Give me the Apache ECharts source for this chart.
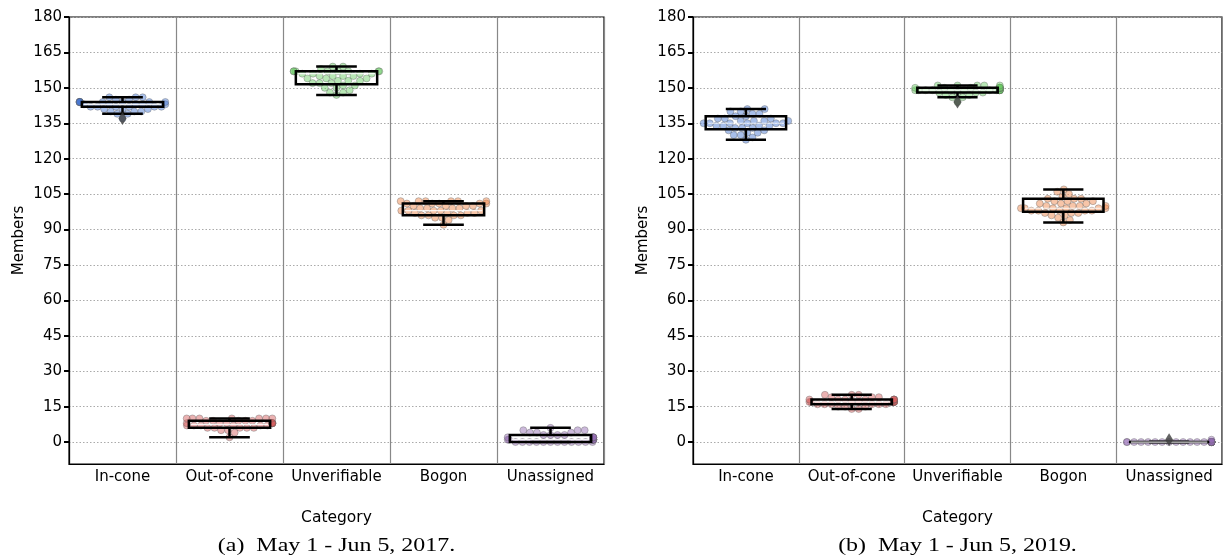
<!DOCTYPE html>
<html>
<head>
<meta charset="utf-8">
<script src="https://cdn.jsdelivr.net/npm/echarts@6.0.0/dist/echarts.min.js"></script>
<style>
  html, body { margin: 0; padding: 0; background: #fff; }
  #chart { width: 1223px; height: 555px; }
</style>
</head>
<body>
<div id="chart"></div>
<script>
const categories = ['In-cone', 'Out-of-cone', 'Unverifiable', 'Bogon', 'Unassigned'];
const yTicks = [0, 15, 30, 45, 60, 75, 90, 105, 120, 135, 150, 165, 180];
const captions = ['(a)  May 1 - Jun 5, 2017.', '(b)  May 1 - Jun 5, 2019.'];

// daily member counts, one array per category (2017)
const members2017 = [
  [137,139,139,140,140,140,141,141,141,142,142,142,142,142,142,143,143,143,143,143,144,144,144,144,144,144,144,144,144,144,144,145,145,146,146,146],
  [2,4,5,5,6,6,6,6,6,7,7,7,7,7,7,8,8,8,8,8,8,8,8,8,9,9,9,9,9,10,10,10,10,10,10,10],
  [147,148,148,149,150,150,151,151,152,152,152,153,153,153,154,154,154,155,155,155,155,156,156,156,156,157,157,157,157,157,157,157,157,158,159,159],
  [92,94,95,95,96,96,96,96,97,97,97,97,98,98,98,98,98,99,99,99,99,100,100,100,100,101,101,101,101,101,102,102,102,102,102,102],
  [0,0,0,0,0,0,0,0,0,0,0,0,1,1,1,1,1,1,1,1,2,2,2,2,2,3,3,3,3,4,4,4,5,5,5,6]
];
// [low whisker, q1, median, q3, high whisker]
const boxes2017 = [
  [139, 142, 143, 144, 146],
  [2, 6, 7.5, 9, 10],
  [147, 151.5, 156, 157, 159],
  [92, 96, 98, 101, 102],
  [0, 0, 1, 3, 6]
];
const outliers2017 = [[0, 137]];

// 2019
const members2019 = [
  [128,129,130,130,131,131,132,132,133,133,133,134,134,134,134,135,135,135,135,135,135,136,136,136,136,137,137,137,138,138,139,139,140,140,141,141],
  [14,14,15,15,15,16,16,16,16,16,16,17,17,17,17,17,17,17,17,17,17,17,18,18,18,18,18,18,18,18,19,19,19,20,20,20],
  [144,146,146,147,147,148,148,148,148,149,149,149,149,149,149,149,149,149,149,149,149,149,150,150,150,150,150,150,150,150,150,151,151,151,151,151],
  [93,94,95,96,96,97,97,97,98,98,98,98,98,99,99,99,99,99,99,100,100,100,100,101,101,101,102,102,102,103,103,103,104,105,106,107],
  [0,0,0,0,0,0,0,0,0,0,0,0,0,0,0,0,0,0,0,0,0,0,0,0,0,0,0,0,0,0,0,0,0,0,0,1]
];
const boxes2019 = [
  [128, 132.5, 135, 138, 141],
  [14, 16, 17, 18, 20],
  [146, 148, 149, 150, 151],
  [93, 97.5, 99, 103, 107],
  [0, 0, 0, 0, 0]
];
const outliers2019 = [[2, 144], [4, 1]];

const pointColors = ['rgba(72,120,208,0.6)', 'rgba(214,95,95,0.6)', 'rgba(106,204,100,0.6)', 'rgba(238,133,74,0.6)', 'rgba(149,108,180,0.6)'];

const Y_MIN = -9.3, Y_MAX = 180;
const GRID_H = 447;
const PX_PER_UNIT = GRID_H / (Y_MAX - Y_MIN);
const POINT = 7;

// simple beeswarm: put each point as close to the centre as it can go without overlap
function swarm(values, bandPx) {
  const half = 0.4 * bandPx;
  const order = values.map((v, i) => i).sort((a, b) => values[a] - values[b]);
  const placed = [];
  const out = new Array(values.length);
  order.forEach(idx => {
    const y = values[idx] * PX_PER_UNIT;
    const near = placed.filter(p => Math.abs(p.y - y) < POINT);
    const cands = [0];
    near.forEach(p => {
      const dx = Math.sqrt(POINT * POINT - (p.y - y) * (p.y - y));
      cands.push(p.x + dx, p.x - dx);
    });
    cands.sort((a, b) => Math.abs(a) - Math.abs(b));
    let x = cands.find(c => near.every(p => (p.x - c) * (p.x - c) + (p.y - y) * (p.y - y) >= POINT * POINT - 1e-6));
    if (Math.abs(x) > half) x = Math.sign(x) * half;
    placed.push({ x, y });
    out[idx] = x / bandPx;
  });
  return out;
}

const panels = [
  { left: 69, width: 535, members: members2017, boxes: boxes2017, outliers: outliers2017 },
  { left: 693, width: 529, members: members2019, boxes: boxes2019, outliers: outliers2019 }
];

const grid = [], xAxis = [], yAxis = [], series = [];
panels.forEach((p, g) => {
  grid.push({ left: p.left, top: 17, width: p.width, height: GRID_H, show: true, borderColor: '#000', borderWidth: 1.2, backgroundColor: 'transparent' });
  xAxis.push({
    type: 'category', gridIndex: g, data: categories,
    name: 'Category', nameLocation: 'middle', nameGap: 46,
    nameTextStyle: { fontFamily: 'DejaVu Sans', fontSize: 15.5, color: '#000' },
    axisLine: { onZero: false, lineStyle: { color: '#000', width: 1.2 } },
    axisTick: { show: false },
    axisLabel: { interval: 0, fontFamily: 'DejaVu Sans', fontSize: 15, color: '#000', margin: 6 },
    splitLine: { show: true, lineStyle: { color: '#888', width: 1.2 } }
  });
  xAxis.push({ type: 'value', gridIndex: g, min: -0.5, max: 4.5, show: false });
  yAxis.push({
    type: 'value', gridIndex: g, min: Y_MIN, max: Y_MAX,
    name: 'Members', nameLocation: 'middle', nameGap: 42,
    nameTextStyle: { fontFamily: 'DejaVu Sans', fontSize: 15, color: '#000' },
    axisLine: { show: true, onZero: false, lineStyle: { color: '#000', width: 1.2 } },
    axisTick: { show: true, length: 5, customValues: yTicks, lineStyle: { color: '#000', width: 2 } },
    axisLabel: { customValues: yTicks, fontFamily: 'DejaVu Sans', fontSize: 15, color: '#000', margin: 7 },
    splitLine: { show: true, lineStyle: { color: '#aaa', width: 1, type: [1.5, 2] } }
  });
  const bandPx = p.width / categories.length;
  p.members.forEach((vals, c) => {
    const offs = swarm(vals, bandPx);
    series.push({
      type: 'scatter', xAxisIndex: 2 * g + 1, yAxisIndex: g,
      symbolSize: POINT, z: 3,
      itemStyle: { color: pointColors[c], borderColor: 'rgba(100,100,100,0.6)', borderWidth: 0.8 },
      data: vals.map((v, i) => [c + offs[i], v])
    });
  });
  series.push({
    type: 'custom', xAxisIndex: 2 * g + 1, yAxisIndex: g, z: 4,
    data: p.boxes.map((b, c) => [c].concat(b)),
    renderItem: (params, api) => {
      const c = api.value(0);
      const x = api.coord([c, 0])[0];
      const bw = api.size([0.76, 0])[0];
      const cw = api.size([0.38, 0])[0];
      const y = k => api.coord([c, api.value(k)])[1];
      const lo = y(1), q1 = y(2), med = y(3), q3 = y(4), hi = y(5);
      const ls = { stroke: '#000', lineWidth: 2.5, fill: null };
      return {
        type: 'group',
        children: [
          { type: 'line', shape: { x1: x, y1: q1, x2: x, y2: lo }, style: ls },
          { type: 'line', shape: { x1: x, y1: q3, x2: x, y2: hi }, style: ls },
          { type: 'line', shape: { x1: x - cw / 2, y1: lo, x2: x + cw / 2, y2: lo }, style: ls },
          { type: 'line', shape: { x1: x - cw / 2, y1: hi, x2: x + cw / 2, y2: hi }, style: ls },
          { type: 'rect', shape: { x: x - bw / 2, y: q3, width: bw, height: q1 - q3 }, style: { stroke: '#000', lineWidth: 2.5, fill: 'transparent' } },
          { type: 'line', shape: { x1: x - bw / 2 + 2, y1: med, x2: x + bw / 2 - 2, y2: med }, style: { stroke: 'rgba(255,255,255,0.85)', lineWidth: 1.2 } }
        ]
      };
    }
  });
  series.push({
    type: 'scatter', xAxisIndex: 2 * g + 1, yAxisIndex: g, z: 5,
    symbol: 'diamond', symbolSize: [8, 13],
    itemStyle: { color: '#3d3d3d' },
    data: p.outliers
  });
});

const chart = echarts.init(document.getElementById('chart'));
chart.setOption({
  animation: false,
  grid, xAxis, yAxis, series,
  graphic: captions.map((t, i) => ({
    type: 'text', x: panels[i].left + panels[i].width / 2, y: 546,
    scaleX: 1.33,
    style: { text: t, fontFamily: 'Liberation Serif', fontSize: 18, fill: '#000', align: 'center', verticalAlign: 'middle' }
  }))
});
</script>
</body>
</html>
